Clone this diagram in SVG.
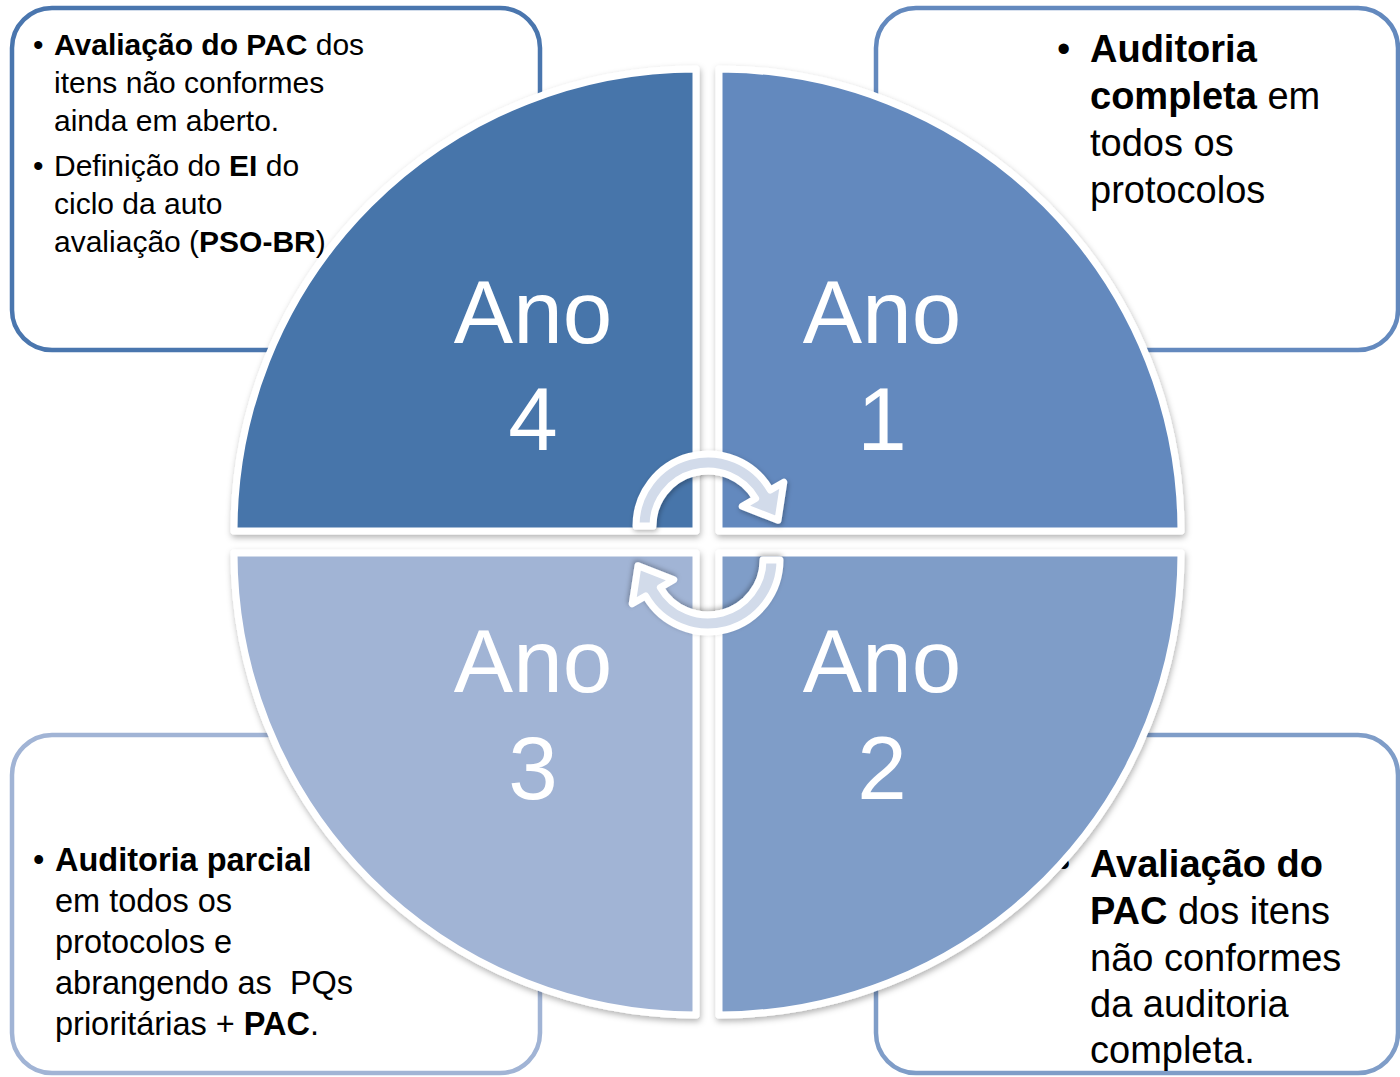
<svg xmlns="http://www.w3.org/2000/svg" width="1400" height="1077" viewBox="0 0 1400 1077">
<defs>
<filter id="sh" x="-10%" y="-10%" width="120%" height="120%">
<feDropShadow dx="1" dy="3" stdDeviation="3" flood-color="#000" flood-opacity="0.3"/>
</filter>
<filter id="sh2" x="-20%" y="-20%" width="140%" height="140%">
<feDropShadow dx="1" dy="2" stdDeviation="2.5" flood-color="#000" flood-opacity="0.3"/>
</filter>
<style>
.box{fill:#fff;stroke-width:4.5}
.t{font-family:"Liberation Sans",Arial,sans-serif;fill:#000;white-space:pre}
.s30{font-size:30px}
.s32{font-size:32.5px}
.s38{font-size:38px}
.b{font-weight:bold}
.q{stroke:#fff;stroke-width:7;stroke-linejoin:round;filter:url(#sh)}
.big{font-family:"Liberation Sans",Arial,sans-serif;font-size:89px;fill:#fff;text-anchor:middle}
.arr{fill:#D2DBEA;stroke:#fff;stroke-width:7;stroke-linejoin:round;filter:url(#sh2)}
</style>
</defs>
<rect width="1400" height="1077" fill="#fff"/>

<g id="box-ano4">
<rect class="box" x="12" y="8" width="528" height="342" rx="40" stroke="#4A76AE"/>
<text class="t s30" x="33" y="55">•</text>
<text class="t s30" x="54" y="55"><tspan class="b">Avaliação do PAC</tspan> dos</text>
<text class="t s30" x="54" y="93">itens não conformes</text>
<text class="t s30" x="54" y="131">ainda em aberto.</text>
<text class="t s30" x="33" y="176">•</text>
<text class="t s30" x="54" y="176">Definição do <tspan class="b">EI</tspan> do</text>
<text class="t s30" x="54" y="214">ciclo da auto</text>
<text class="t s30" x="54" y="252">avaliação (<tspan class="b">PSO-BR</tspan>)</text>
</g>

<g id="box-ano1">
<rect class="box" x="876" y="8" width="522" height="342" rx="40" stroke="#6389BE"/>
<text class="t s38" x="1057" y="62">•</text>
<text class="t s38 b" x="1090" y="62">Auditoria</text>
<text class="t s38" x="1090" y="109"><tspan class="b">completa</tspan> em</text>
<text class="t s38" x="1090" y="156">todos os</text>
<text class="t s38" x="1090" y="203">protocolos</text>
</g>

<g id="box-ano3">
<rect class="box" x="12" y="735" width="528" height="338" rx="40" stroke="#A1B4D5"/>
<text class="t s32" x="33" y="871">•</text>
<text class="t s32 b" x="55" y="871">Auditoria parcial</text>
<text class="t s32" x="55" y="912">em todos os</text>
<text class="t s32" x="55" y="953">protocolos e</text>
<text class="t s32" x="55" y="994">abrangendo as  PQs</text>
<text class="t s32" x="55" y="1035">prioritárias + <tspan class="b">PAC</tspan>.</text>
</g>

<g id="box-ano2">
<rect class="box" x="876" y="735" width="522" height="338" rx="40" stroke="#7F9DC8"/>
<text class="t s38" x="1057" y="877">•</text>
<text class="t s38 b" x="1090" y="877">Avaliação do</text>
<text class="t s38" x="1090" y="924"><tspan class="b">PAC</tspan> dos itens</text>
<text class="t s38" x="1090" y="971">não conformes</text>
<text class="t s38" x="1090" y="1017">da auditoria</text>
<text class="t s38" x="1090" y="1063">completa.</text>
</g>

<g id="ano4">
<path class="q" d="M696,531 L234,531 A462,462 0 0 1 696,69 Z" fill="#4774AA"/>
<text class="big" x="533" y="343">Ano</text>
<text class="big" x="533" y="450">4</text>
</g>
<g id="ano1">
<path class="q" d="M719,531 L719,69 A462,462 0 0 1 1181,531 Z" fill="#6389BE"/>
<text class="big" x="882" y="343">Ano</text>
<text class="big" x="882" y="450">1</text>
</g>
<g id="ano2">
<path class="q" d="M719,553 L1181,553 A462,462 0 0 1 719,1015 Z" fill="#7F9DC8"/>
<text class="big" x="882" y="692">Ano</text>
<text class="big" x="882" y="799">2</text>
</g>
<g id="ano3">
<path class="q" d="M696,553 L696,1015 A462,462 0 0 1 234,553 Z" fill="#A1B4D5"/>
<text class="big" x="533" y="692">Ano</text>
<text class="big" x="533" y="799">3</text>
</g>

<g id="connectors">
<path class="arr" d="M636,526 A72,72 0 0 1 770.35,490 L783.78,482.25 L777.99,520.23 L742.21,506.25 L755.63,498.5 A55,55 0 0 0 653,526 Z"/>
<path class="arr" transform="rotate(180 708 543)" d="M636,526 A72,72 0 0 1 770.35,490 L783.78,482.25 L777.99,520.23 L742.21,506.25 L755.63,498.5 A55,55 0 0 0 653,526 Z"/>
</g>
</svg>
